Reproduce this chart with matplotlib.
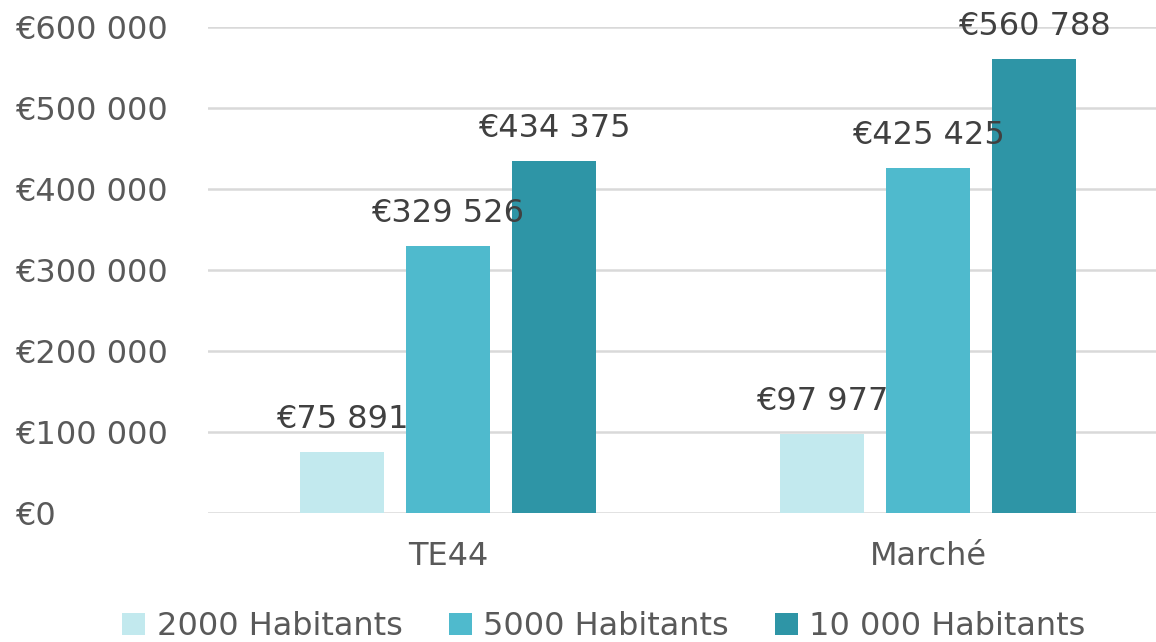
import matplotlib
matplotlib.use("Agg")
import matplotlib.pyplot as plt
import numpy as np

categories = ["TE44", "Marché"]
series_names = ["2000 Habitants", "5000 Habitants", "10 000 Habitants"]
values_2000 = [75891, 97977]
values_5000 = [329526, 425425]
values_10000 = [434375, 560788]
yticks = [0, 100000, 200000, 300000, 400000, 500000, 600000]
colors = ["#C2E9EE", "#4FBACD", "#2E95A6"]

def fmt(v):
    return "€" + f"{int(v):,}".replace(",", " ")

plt.rcParams['font.family'] = ['DejaVu Sans']
fig = plt.figure(figsize=(11.56, 6.42), dpi=100)
ax = fig.add_axes([208/1156, 1-513/642, 960/1156, 486/642])

x = np.arange(len(categories))
width = 0.175
offs = [-0.221, 0.0, 0.221]
all_series = [values_2000, values_5000, values_10000]
for s, (vals, name, col, off) in enumerate(zip(all_series, series_names, colors, offs)):
    bars = ax.bar(x + off, vals, width, color=col, label=name, zorder=3)
    for b, v in zip(bars, vals):
        ax.annotate(fmt(v), (b.get_x() + b.get_width()/2, v), xytext=(0, 17),
                    textcoords='offset pixels', ha='center', va='bottom',
                    fontsize=23, color='#404040', clip_on=False, zorder=5)

ax.set_xlim(-0.5, 1.5)
ax.set_ylim(0, 600000)
ax.set_yticks(yticks)
ax.set_yticklabels([fmt(v) for v in yticks], ha='left')
ax.set_xticks(x)
ax.set_xticklabels(categories)
ax.tick_params(axis='y', length=0, labelsize=23, labelcolor='#595959', pad=139)
ax.tick_params(axis='x', length=0, labelsize=23, labelcolor='#595959', pad=20)
for sp in ax.spines.values():
    sp.set_visible(False)
ax.grid(axis='y', color='#D9D9D9', linewidth=1.8, zorder=0)
ax.set_axisbelow(True)

fig.legend(loc='lower center', bbox_to_anchor=(0.5225, -0.045), ncol=3, frameon=False,
           fontsize=23, labelcolor='#595959', handlelength=0.72, handleheight=0.72,
           handletextpad=0.35, columnspacing=1.45)

fig.savefig("out.png", dpi=100)
